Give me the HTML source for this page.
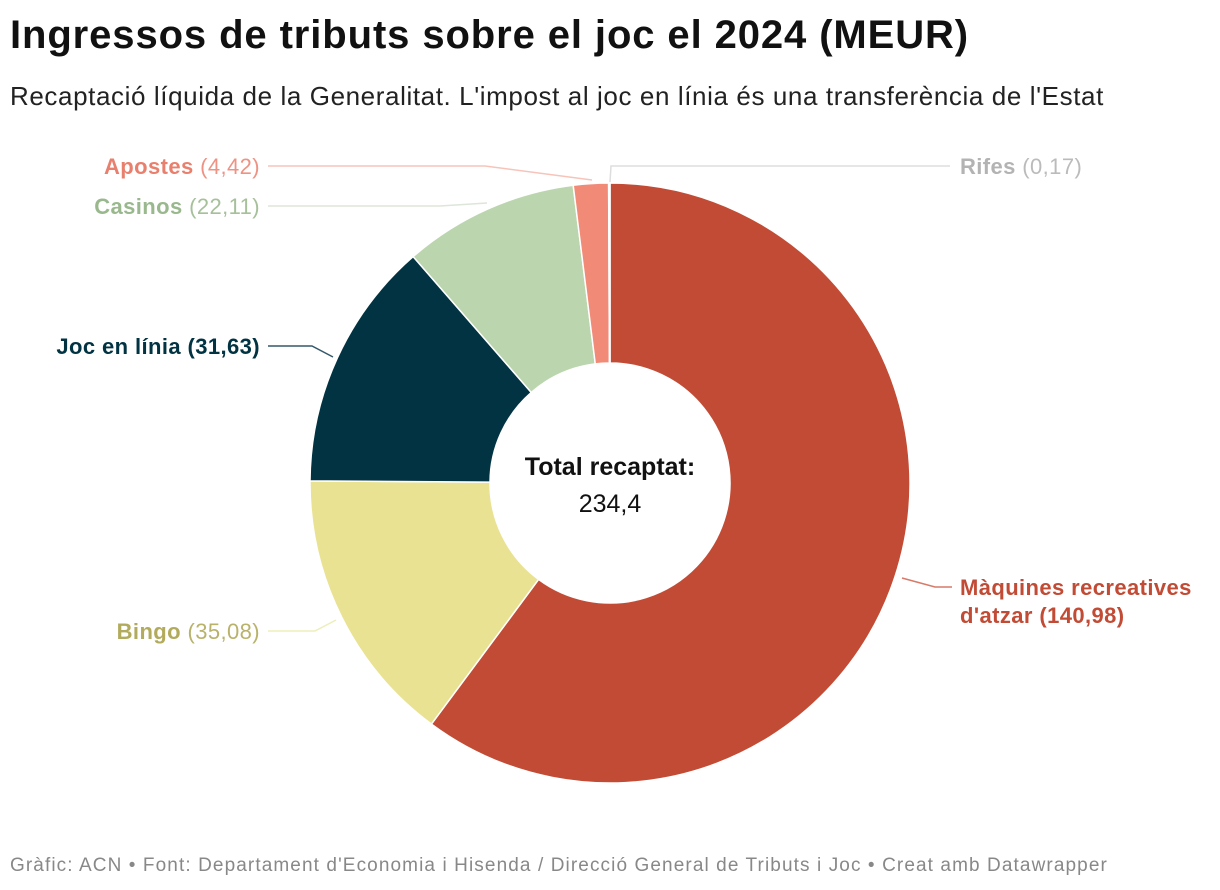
<!DOCTYPE html>
<html><head><meta charset="utf-8"><style>
body{margin:0;background:#fff;font-family:"Liberation Sans",sans-serif;}
#wrap{position:relative;width:1220px;height:890px;overflow:hidden}
.t{position:absolute;white-space:nowrap}
</style></head><body>
<div id="wrap">
<div class="t" style="left:10px;top:13px;font-size:40px;font-weight:bold;color:#111;letter-spacing:0.9px">Ingressos de tributs sobre el joc el 2024 (MEUR)</div>
<div class="t" style="left:10px;top:81px;font-size:26px;color:#222;letter-spacing:0.6px">Recaptació líquida de la Generalitat. L'impost al joc en línia és una transferència de l'Estat</div>
<svg id="svg" width="1220" height="890" style="position:absolute;left:0;top:0"></svg>
<div class="t" style="left:10px;top:855px;font-size:19px;color:#888;letter-spacing:1.1px">Gràfic: ACN • Font: Departament d'Economia i Hisenda / Direcció General de Tributs i Joc • Creat amb Datawrapper</div>
</div>
<script>
const categories=["Màquines recreatives d'atzar","Bingo","Joc en línia","Casinos","Apostes","Rifes"];
const values=[140.98,35.08,31.63,22.11,4.42,0.17];
const colors=["#c24b35","#e9e292","#013343","#bbd5ae","#f28a78","#cccccc"];
const NS="http://www.w3.org/2000/svg";
const svg=document.getElementById('svg');
const cx=610,cy=483,R=300,r=120;
const total=values.reduce((a,b)=>a+b,0);
function pt(a,rad){return [cx+rad*Math.sin(a),cy-rad*Math.cos(a)];}
let acc=0;
values.forEach((v,i)=>{
  const a0=acc/total*2*Math.PI; acc+=v; const a1=acc/total*2*Math.PI;
  const large=(a1-a0)>Math.PI?1:0;
  const p0=pt(a0,R),p1=pt(a1,R),q1=pt(a1,r),q0=pt(a0,r);
  const p=document.createElementNS(NS,'path');
  p.setAttribute('d',`M${p0[0]},${p0[1]}A${R},${R} 0 ${large} 1 ${p1[0]},${p1[1]}L${q1[0]},${q1[1]}A${r},${r} 0 ${large} 0 ${q0[0]},${q0[1]}Z`);
  p.setAttribute('fill',colors[i]);p.setAttribute('stroke','#fff');p.setAttribute('stroke-width','1.5');
  
  
  svg.appendChild(p);
});
function line(pts,c){const l=document.createElementNS(NS,'polyline');l.setAttribute('points',pts);l.setAttribute('fill','none');l.setAttribute('stroke',c);l.setAttribute('stroke-width','1.5');


svg.appendChild(l);}
line("268,166 485,166 592,180","#f7c4ba");
line("268,206 440,206 487,203","#dde6d8");
line("268,346 312,346 333,357","#33586a");
line("268,631 315,631 336,620","#eeeebb");
line("952,587 935,587 902,578","#d77a68");
line("950,166 611,166 610,182","#dddddd");
function txt(x,y,html,anchor,name){const t=document.createElementNS(NS,'text');t.setAttribute('x',x);t.setAttribute('y',y);t.setAttribute('text-anchor',anchor);t.setAttribute('font-size','22');t.setAttribute('letter-spacing','0.4');t.setAttribute('font-family','Liberation Sans, sans-serif');t.innerHTML=html;


svg.appendChild(t);}
const f=v=>v.toFixed(2).replace('.',',');
txt(260,174,`<tspan font-weight="bold" fill="#e9806d">Apostes</tspan><tspan fill="#ee9384"> (${f(values[4])})</tspan>`,'end','label-apostes');
txt(260,214,`<tspan font-weight="bold" fill="#9ab88d">Casinos</tspan><tspan fill="#a6c09a"> (${f(values[3])})</tspan>`,'end','label-casinos');
txt(260,354,`<tspan font-weight="bold" fill="#013343">Joc en línia (${f(values[2])})</tspan>`,'end','label-joc-en-linia');
txt(260,639,`<tspan font-weight="bold" fill="#b3ab5c">Bingo</tspan><tspan fill="#b9b26a"> (${f(values[1])})</tspan>`,'end','label-bingo');
txt(960,174,`<tspan font-weight="bold" fill="#b3b3b3">Rifes</tspan><tspan fill="#bbbbbb"> (${f(values[5])})</tspan>`,'start','label-rifes');
txt(960,595,`<tspan font-weight="bold" fill="#c24b35">Màquines recreatives</tspan>`,'start','label-maquines-1');
txt(960,623,`<tspan font-weight="bold" fill="#c24b35">d'atzar (${f(values[0])})</tspan>`,'start','label-maquines-2');
const c1=document.createElementNS(NS,'text');c1.setAttribute('x',cx);c1.setAttribute('y',475);c1.setAttribute('text-anchor','middle');c1.setAttribute('font-size','25');c1.setAttribute('font-weight','bold');c1.setAttribute('fill','#111');c1.setAttribute('font-family','Liberation Sans, sans-serif');c1.textContent='Total recaptat:';


svg.appendChild(c1);
const c2=document.createElementNS(NS,'text');c2.setAttribute('x',cx);c2.setAttribute('y',512);c2.setAttribute('text-anchor','middle');c2.setAttribute('font-size','25');c2.setAttribute('fill','#111');c2.setAttribute('font-family','Liberation Sans, sans-serif');c2.textContent=total.toFixed(1).replace('.',',');


svg.appendChild(c2);
</script>
</body></html>
